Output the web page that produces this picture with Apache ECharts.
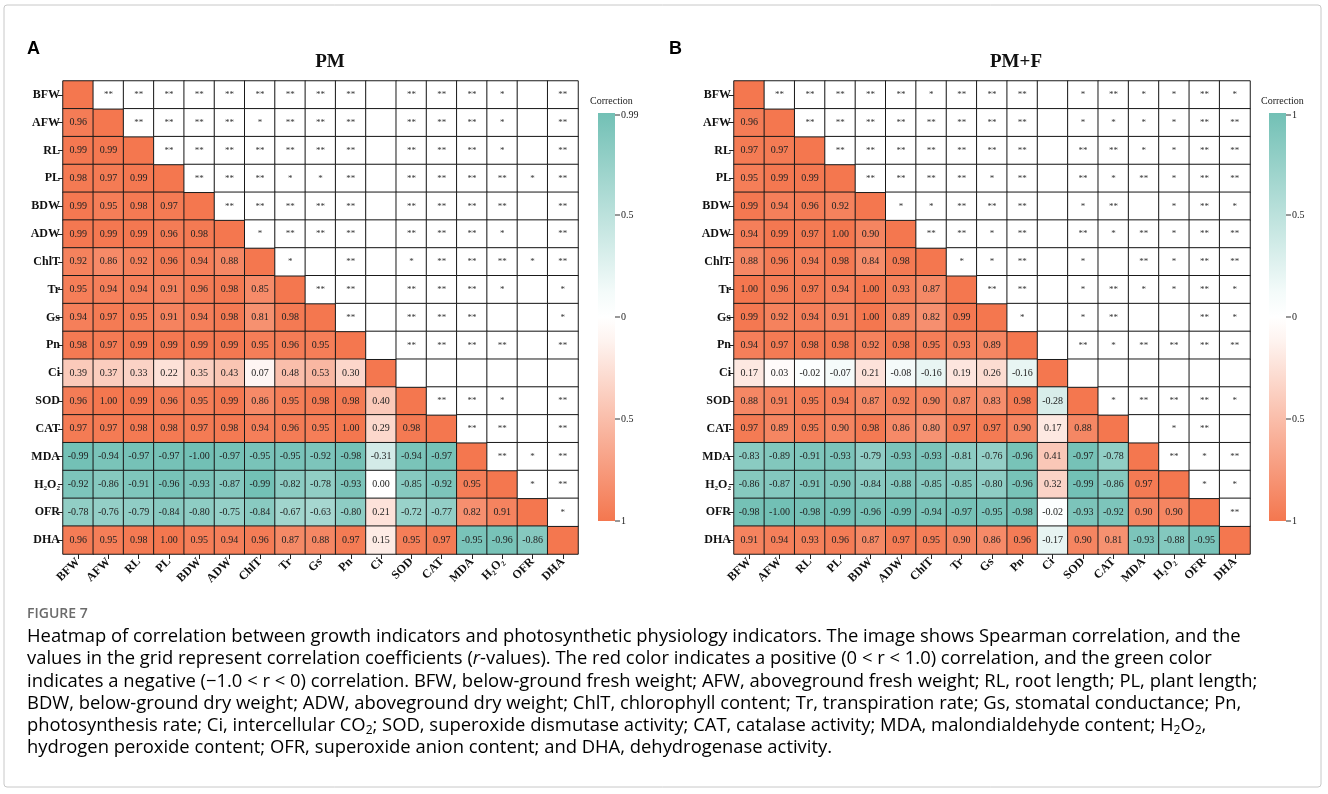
<!DOCTYPE html>
<html>
<head>
<meta charset="utf-8">
<script src="https://cdn.jsdelivr.net/npm/echarts@6/dist/echarts.min.js"></script>
<style>
  html, body { margin: 0; padding: 0; background: #fff; }
  #chart { width: 1328px; height: 794px; }
</style>
</head>
<body>
<div id="chart"></div>
<script>
// indicator names (rows top->bottom, columns left->right)
const categories = ['BFW', 'AFW', 'RL', 'PL', 'BDW', 'ADW', 'ChlT', 'Tr', 'Gs', 'Pn', 'Ci', 'SOD', 'CAT', 'MDA', 'H₂O₂', 'OFR', 'DHA'];

// lower triangle r-values, row i holds columns 0..i-1
const corrPM = [
  [],
  [0.96],
  [0.99, 0.99],
  [0.98, 0.97, 0.99],
  [0.99, 0.95, 0.98, 0.97],
  [0.99, 0.99, 0.99, 0.96, 0.98],
  [0.92, 0.86, 0.92, 0.96, 0.94, 0.88],
  [0.95, 0.94, 0.94, 0.91, 0.96, 0.98, 0.85],
  [0.94, 0.97, 0.95, 0.91, 0.94, 0.98, 0.81, 0.98],
  [0.98, 0.97, 0.99, 0.99, 0.99, 0.99, 0.95, 0.96, 0.95],
  [0.39, 0.37, 0.33, 0.22, 0.35, 0.43, 0.07, 0.48, 0.53, 0.30],
  [0.96, 1.00, 0.99, 0.96, 0.95, 0.99, 0.86, 0.95, 0.98, 0.98, 0.40],
  [0.97, 0.97, 0.98, 0.98, 0.97, 0.98, 0.94, 0.96, 0.95, 1.00, 0.29, 0.98],
  [-0.99, -0.94, -0.97, -0.97, -1.00, -0.97, -0.95, -0.95, -0.92, -0.98, -0.31, -0.94, -0.97],
  [-0.92, -0.86, -0.91, -0.96, -0.93, -0.87, -0.99, -0.82, -0.78, -0.93, 0.00, -0.85, -0.92, 0.95],
  [-0.78, -0.76, -0.79, -0.84, -0.80, -0.75, -0.84, -0.67, -0.63, -0.80, 0.21, -0.72, -0.77, 0.82, 0.91],
  [0.96, 0.95, 0.98, 1.00, 0.95, 0.94, 0.96, 0.87, 0.88, 0.97, 0.15, 0.95, 0.97, -0.95, -0.96, -0.86]
];
const corrPMF = [
  [],
  [0.96],
  [0.97, 0.97],
  [0.95, 0.99, 0.99],
  [0.99, 0.94, 0.96, 0.92],
  [0.94, 0.99, 0.97, 1.00, 0.90],
  [0.88, 0.96, 0.94, 0.98, 0.84, 0.98],
  [1.00, 0.96, 0.97, 0.94, 1.00, 0.93, 0.87],
  [0.99, 0.92, 0.94, 0.91, 1.00, 0.89, 0.82, 0.99],
  [0.94, 0.97, 0.98, 0.98, 0.92, 0.98, 0.95, 0.93, 0.89],
  [0.17, 0.03, -0.02, -0.07, 0.21, -0.08, -0.16, 0.19, 0.26, -0.16],
  [0.88, 0.91, 0.95, 0.94, 0.87, 0.92, 0.90, 0.87, 0.83, 0.98, -0.28],
  [0.97, 0.89, 0.95, 0.90, 0.98, 0.86, 0.80, 0.97, 0.97, 0.90, 0.17, 0.88],
  [-0.83, -0.89, -0.91, -0.93, -0.79, -0.93, -0.93, -0.81, -0.76, -0.96, 0.41, -0.97, -0.78],
  [-0.86, -0.87, -0.91, -0.90, -0.84, -0.88, -0.85, -0.85, -0.80, -0.96, 0.32, -0.99, -0.86, 0.97],
  [-0.98, -1.00, -0.98, -0.99, -0.96, -0.99, -0.94, -0.97, -0.95, -0.98, -0.02, -0.93, -0.92, 0.90, 0.90],
  [0.91, 0.94, 0.93, 0.96, 0.87, 0.97, 0.95, 0.90, 0.86, 0.96, -0.17, 0.90, 0.81, -0.93, -0.88, -0.95]
];

// upper triangle significance (number of stars), row i holds columns i+1..16
const starsPM = [
  [2, 2, 2, 2, 2, 2, 2, 2, 2, 0, 2, 2, 2, 1, 0, 2],
  [2, 2, 2, 2, 1, 2, 2, 2, 0, 2, 2, 2, 1, 0, 2],
  [2, 2, 2, 2, 2, 2, 2, 0, 2, 2, 2, 1, 0, 2],
  [2, 2, 2, 1, 1, 2, 0, 2, 2, 2, 2, 1, 2],
  [2, 2, 2, 2, 2, 0, 2, 2, 2, 2, 0, 2],
  [1, 2, 2, 2, 0, 2, 2, 2, 1, 0, 2],
  [1, 0, 2, 0, 1, 2, 2, 2, 1, 2],
  [2, 2, 0, 2, 2, 2, 1, 0, 1],
  [2, 0, 2, 2, 2, 0, 0, 1],
  [0, 2, 2, 2, 2, 0, 2],
  [0, 0, 0, 0, 0, 0],
  [2, 2, 1, 0, 2],
  [2, 2, 0, 2],
  [2, 1, 2],
  [1, 2],
  [1],
  []
];
const starsPMF = [
  [2, 2, 2, 2, 2, 1, 2, 2, 2, 0, 1, 2, 1, 1, 2, 1],
  [2, 2, 2, 2, 2, 2, 2, 2, 0, 1, 1, 1, 1, 2, 2],
  [2, 2, 2, 2, 2, 2, 2, 0, 2, 2, 1, 1, 2, 2],
  [2, 2, 2, 2, 1, 2, 0, 2, 1, 2, 1, 2, 2],
  [1, 1, 2, 2, 2, 0, 1, 2, 0, 1, 2, 1],
  [2, 2, 1, 2, 0, 2, 1, 2, 1, 2, 2],
  [1, 1, 2, 0, 1, 0, 2, 1, 2, 2],
  [2, 2, 0, 1, 2, 1, 1, 2, 1],
  [1, 0, 1, 2, 0, 0, 2, 1],
  [0, 2, 1, 2, 2, 2, 2],
  [0, 0, 0, 0, 0, 0],
  [1, 2, 2, 2, 1],
  [0, 1, 2, 0],
  [2, 1, 2],
  [1, 1],
  [2],
  []
];

// colour-bar tick labels (top -> bottom)
const legendTicksPM = ['0.99', '0.5', '0', '0.5', '1'];
const legendTicksPMF = ['1', '0.5', '0', '0.5', '1'];

const captionLines = [
  '{n|Heatmap of correlation between growth indicators and photosynthetic physiology indicators. The image shows Spearman correlation, and the}',
  '{n|values in the grid represent correlation coefficients (}{i|r}{n|-values). The red color indicates a positive (0 < r < 1.0) correlation, and the green color}',
  '{n|indicates a negative (\u22121.0 < r < 0) correlation. BFW, below-ground fresh weight; AFW, aboveground fresh weight; RL, root length; PL, plant length;}',
  '{n|BDW, below-ground dry weight; ADW, aboveground dry weight; ChlT, chlorophyll content; Tr, transpiration rate; Gs, stomatal conductance; Pn,}',
  '{n|photosynthesis rate; Ci, intercellular CO}{s|2}{n|; SOD, superoxide dismutase activity; CAT, catalase activity; MDA, malondialdehyde content; H}{s|2}{n|O}{s|2}{n|,}',
  '{n|hydrogen peroxide content; OFR, superoxide anion content; and DHA, dehydrogenase activity.}'
];

const RED = '#f4774f';
const TEAL = '#72c0b5';
const SERIF = '"Liberation Serif", "Times New Roman", serif';

function lowerData(rows) {
  const out = [];
  rows.forEach((r, i) => {
    r.forEach((v, j) => out.push([j, i, v]));
    out.push([i, i, 1]);
  });
  return out;
}
function upperData(rows) {
  const out = [];
  rows.forEach((r, i) => {
    r.forEach((s, k) => out.push([i + 1 + k, i, s]));
  });
  return out;
}

const grids = [
  { left: 63, top: 81, width: 515, height: 473 },
  { left: 734, top: 81, width: 516, height: 473 }
];

function xAxisFor(g) {
  return {
    gridIndex: g, type: 'category', data: categories,
    axisLine: { show: false },
    axisTick: { show: true, length: 5, alignWithLabel: true, lineStyle: { color: '#222' } },
    axisLabel: { rotate: 45, interval: 0, margin: 6, fontFamily: SERIF, fontWeight: 'bold', fontSize: 12, color: '#111' },
    splitLine: { show: false }
  };
}
function yAxisFor(g) {
  return {
    gridIndex: g, type: 'category', data: categories, inverse: true,
    axisLine: { show: false },
    axisTick: { show: true, length: 5, alignWithLabel: true, lineStyle: { color: '#222' } },
    axisLabel: { interval: 0, margin: 3, fontFamily: SERIF, fontWeight: 'bold', fontSize: 12, color: '#111' },
    splitLine: { show: false }
  };
}

const cellBorder = { borderColor: '#1a1a1a', borderWidth: 1 };

function lowerSeries(g, rows) {
  return {
    type: 'heatmap', xAxisIndex: g, yAxisIndex: g,
    data: lowerData(rows),
    itemStyle: cellBorder,
    label: {
      show: true, fontFamily: SERIF, fontSize: 10, color: '#222',
      formatter: p => (p.value[0] === p.value[1] ? '' : p.value[2].toFixed(2))
    },
    emphasis: { disabled: true }
  };
}
function upperSeries(g, rows) {
  return {
    type: 'heatmap', xAxisIndex: g, yAxisIndex: g,
    data: upperData(rows),
    itemStyle: { color: '#fff', borderColor: '#1a1a1a', borderWidth: 1 },
    label: {
      show: true, fontFamily: SERIF, fontSize: 9, color: '#333',
      formatter: p => '*'.repeat(p.value[2])
    },
    emphasis: { disabled: true }
  };
}

function legendGraphics(x, ticks) {
  const top = 113, bottom = 521, w = 17;
  const els = [
    { type: 'text', style: { text: 'Correction', x: x - 8, y: 101, font: '10px ' + SERIF, fill: '#222', textVerticalAlign: 'middle' } },
    {
      type: 'rect', shape: { x: x, y: top, width: w, height: bottom - top },
      style: {
        fill: new echarts.graphic.LinearGradient(0, 0, 0, 1, [
          { offset: 0, color: TEAL },
          { offset: 0.44, color: '#f4fbfa' },
          { offset: 0.5, color: '#ffffff' },
          { offset: 0.56, color: '#fef3ef' },
          { offset: 1, color: RED }
        ])
      }
    }
  ];
  ticks.forEach((t, k) => {
    const y = k === 0 ? top + 2 : top + k * (bottom - top) / 4;
    els.push({ type: 'line', shape: { x1: x + w, y1: y, x2: x + w + 5, y2: y }, style: { stroke: '#333', lineWidth: 1 } });
    els.push({ type: 'text', style: { text: t, x: x + w + 6, y: y, font: '10px ' + SERIF, fill: '#222', textVerticalAlign: 'middle' } });
  });
  return els;
}

const captionFont = '"Open Sans", sans-serif';
const captionRich = {
  n: { fontFamily: captionFont, fontSize: 18.4, color: '#555' },
  i: { fontFamily: captionFont, fontSize: 18.4, fontStyle: 'italic', color: '#555' },
  s: { fontFamily: captionFont, fontSize: 12, color: '#555', padding: [10, 0, 0, 0] }
};

const graphics = [
  { type: 'rect', shape: { x: 4, y: 5, width: 1317, height: 782, r: 3 }, style: { fill: 'none', stroke: '#c8c8c8', lineWidth: 1 }, silent: true },
  { type: 'text', style: { text: 'A', x: 27, y: 49, font: 'bold 18px "Liberation Sans", Arial, sans-serif', fill: '#000', textVerticalAlign: 'middle' } },
  { type: 'text', style: { text: 'B', x: 669, y: 49, font: 'bold 18px "Liberation Sans", Arial, sans-serif', fill: '#000', textVerticalAlign: 'middle' } },
  { type: 'text', style: { text: 'PM', x: 330, y: 62, font: 'bold 19px ' + SERIF, fill: '#111', textAlign: 'center', textVerticalAlign: 'middle' } },
  { type: 'text', style: { text: 'PM+F', x: 1016, y: 62, font: 'bold 19px ' + SERIF, fill: '#111', textAlign: 'center', textVerticalAlign: 'middle' } },
  ...legendGraphics(598, legendTicksPM),
  ...legendGraphics(1269, legendTicksPMF),
  { type: 'text', style: { text: 'FIGURE 7', x: 27, y: 614, font: '600 14px "Open Sans", sans-serif', fill: '#6b6b6b', textVerticalAlign: 'middle' } }
];
captionLines.forEach((line, k) => {
  graphics.push({ type: 'text', style: { text: line, rich: captionRich, x: 27, y: 637 + k * 22.2, textVerticalAlign: 'middle' } });
});

const chart = echarts.init(document.getElementById('chart'), null, { renderer: 'canvas' });
chart.setOption({
  backgroundColor: '#fff',
  animation: false,
  grid: grids,
  xAxis: [xAxisFor(0), xAxisFor(1)],
  yAxis: [yAxisFor(0), yAxisFor(1)],
  visualMap: {
    type: 'continuous', show: false, min: -1, max: 1, seriesIndex: [0, 2],
    inRange: { color: [TEAL, '#ffffff', RED] }
  },
  series: [
    lowerSeries(0, corrPM),
    upperSeries(0, starsPM),
    lowerSeries(1, corrPMF),
    upperSeries(1, starsPMF)
  ],
  graphic: graphics
});
</script>
</body>
</html>
